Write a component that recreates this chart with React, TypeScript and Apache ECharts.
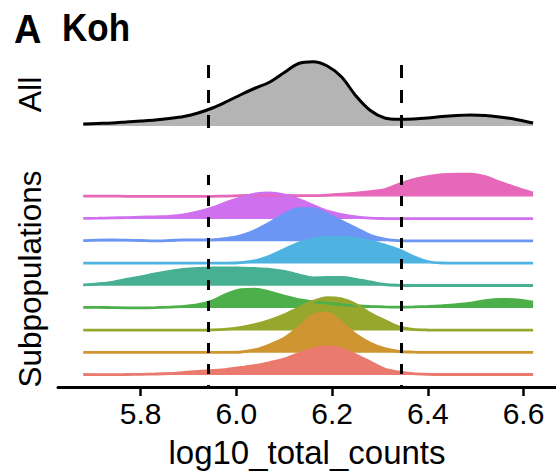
import React, { useEffect, useRef } from "react";
import * as echarts from "echarts";

// x positions (log10_total_counts) at which the densities are read
const xs = [5.68, 5.71, 5.74, 5.77, 5.8, 5.83, 5.86, 5.89, 5.92, 5.95, 5.98, 6.01, 6.04, 6.07, 6.1, 6.13, 6.16, 6.19, 6.22, 6.25, 6.28, 6.31, 6.34, 6.37, 6.4, 6.43, 6.46, 6.49, 6.52, 6.55, 6.58, 6.62];

// "All" density
const allDensity = [2, 2.5, 3, 4, 5, 6, 7.5, 9.5, 13, 18, 24.5, 31.5, 38, 44, 53.5, 62.5, 64.3, 60, 49, 30, 15.5, 8, 6.7, 7, 8, 9.5, 10.5, 11, 10.5, 9, 7, 3];

// subpopulation densities (bottom ridge first)
const sub1 = [0.5, 0.3, 0.3, 0.5, 0.7, 1, 1.5, 2.5, 3.5, 4.5, 5.7, 7.5, 9.5, 12.5, 16, 21.5, 26, 28, 26, 20, 13, 6, 3, 1.3, 0.7, 0.5, 0.5, 0.5, 0.5, 0.5, 0.5, 0.5];
const sub2 = [0.3, 0.3, 0.3, 0.3, 0.3, 0.3, 0.3, 0.3, 0.3, 0.3, 0.3, 0.7, 3, 8, 14.5, 25, 37.5, 39.5, 30, 18, 9.5, 4, 1.2, 0.6, 0.3, 0.3, 0.3, 0.3, 0.3, 0.3, 0.3, 0.3];
const sub3 = [0.3, 0.3, 0.3, 0.3, 0.3, 0.3, 0.3, 0.3, 0.3, 0.5, 1.3, 3, 6, 10, 15.5, 22.5, 29, 32.8, 31.5, 26, 17, 10, 3.5, 1, 0.4, 0.3, 0.3, 0.3, 0.3, 0.3, 0.3, 0.3];
const sub4 = [0.7, 0.7, 0.5, 0.3, 0.3, 0.5, 1, 1.8, 3.5, 7.3, 14, 18.5, 19, 16, 12, 8.5, 6.3, 5, 3.5, 2.5, 1.7, 1.2, 1, 1.2, 1.7, 2.5, 3.5, 5, 7.5, 8.8, 8.5, 6];
const sub5 = [1, 2, 3.5, 6.5, 9, 12, 14.5, 16.5, 17.5, 18, 18, 17.7, 17.3, 16.5, 14.5, 11, 8, 8.3, 8.3, 6.5, 3.8, 1.3, 0.5, 0.3, 0.3, 0.3, 0.3, 0.3, 0.3, 0.3, 0.3, 0.3];
const sub6 = [0.3, 0.3, 0.3, 0.3, 0.3, 0.3, 0.3, 0.3, 0.3, 0.3, 0.3, 0.8, 2.8, 7.5, 14, 20.5, 24.2, 26, 26.2, 25, 22.5, 18.5, 13.7, 7, 2, 0.5, 0.3, 0.3, 0.3, 0.3, 0.3, 0.3];
const sub7 = [0.5, 1, 1.2, 1, 0.7, 0.3, 0.7, 1.3, 1.3, 1.3, 2.7, 5.5, 11, 18.5, 27, 32.5, 32.5, 27, 20, 13, 6, 2, 0.5, 0.3, 0.3, 0.3, 0.3, 0.3, 0.3, 0.3, 0.3, 0.3];
const sub8 = [0.5, 0.7, 1, 1.3, 1.7, 2.1, 2.5, 4, 7, 11, 16.5, 21, 25, 26, 24, 19.5, 13.5, 7.7, 4.3, 2, 0.8, 0.4, 0.3, 0.3, 0.3, 0.3, 0.3, 0.3, 0.3, 0.3, 0.3, 0.3];
const sub9 = [0.5, 0.5, 0.5, 0.3, 0.3, 0.2, 0.2, 0.2, 0.2, 0.3, 0.5, 1, 1.5, 1.5, 1.2, 1, 1, 1.5, 2.5, 3.5, 5, 7, 12.5, 17, 20, 22, 22.5, 22.5, 20, 14.5, 9.5, 3.5];

const subpopulations = ["1", "2", "3", "4", "5", "6", "7", "8", "9"];
const ridges = [sub1, sub2, sub3, sub4, sub5, sub6, sub7, sub8, sub9];

// dashed threshold lines
const thresholds = [5.941, 6.344];

// tick labels
const xTicks = [5.8, 6.0, 6.2, 6.4, 6.6];

// styles
const ridgeColors = ["#EA7A6D", "#CE9530", "#97A72D", "#4DAF4A", "#47AF92", "#4EB3E0", "#6C96F3", "#CF71EE", "#E767B8"];
const FONT = '"Liberation Sans", Arial, Helvetica, sans-serif';
const RIDGE_BASE = 12;
const RIDGE_STEP = 22.3;
const X_MIN = 5.6272;
const X_MAX = 6.6679;

export default function App() {
  const ref = useRef<HTMLDivElement>(null);

  useEffect(() => {
    if (!ref.current) return;
    const chart = echarts.init(ref.current, null, { renderer: "svg" });

    const ridgeSeries: any[] = [];
    for (let i = ridges.length - 1; i >= 0; i--) {
      const off = RIDGE_BASE + i * RIDGE_STEP;
      ridgeSeries.push({
        name: subpopulations[i],
        type: "line",
        xAxisIndex: 1,
        yAxisIndex: 1,
        data: xs.map((x, k) => [x, off + ridges[i][k]]),
        smooth: 0.3,
        symbol: "none",
        silent: true,
        lineStyle: { color: ridgeColors[i], width: 2.8 },
        areaStyle: { color: ridgeColors[i], opacity: 1, origin: off },
        z: 2,
      });
    }

    const dash = (top: number, bottom: number) =>
      thresholds.map((t) => [
        { coord: [t, top] },
        { coord: [t, bottom] },
      ]);

    const option: any = {
      animation: false,
      backgroundColor: "#ffffff",
      grid: [
        { left: 58, width: 498, top: 56, height: 75 },
        { left: 58, width: 498, top: 157, height: 230 },
      ],
      xAxis: [
        {
          type: "value",
          gridIndex: 0,
          min: X_MIN,
          max: X_MAX,
          show: false,
          splitLine: { show: false },
        },
        {
          type: "value",
          gridIndex: 1,
          min: X_MIN,
          max: X_MAX,
          splitLine: { show: false },
          axisLine: { show: true, onZero: false, lineStyle: { color: "#000", width: 3 } },
          axisTick: {
            show: true,
            length: 9,
            lineStyle: { color: "#000", width: 2.5 },
            customValues: xTicks,
          },
          axisLabel: {
            show: true,
            color: "#000",
            fontSize: 30,
            fontFamily: FONT,
            margin: 11,
            customValues: xTicks,
            formatter: (v: number) => v.toFixed(1),
          },
          name: "log10_total_counts",
          nameLocation: "middle",
          nameGap: 49,
          nameTextStyle: { color: "#000", fontSize: 33, fontFamily: FONT },
        },
      ],
      yAxis: [
        { type: "value", gridIndex: 0, min: -5, max: 70, show: false, splitLine: { show: false } },
        { type: "value", gridIndex: 1, min: 0, max: 230, show: false, splitLine: { show: false } },
      ],
      graphic: [
        {
          type: "text",
          x: 14,
          y: 28,
          scaleY: 1.08,
          style: {
            text: "A",
            fontSize: 38,
            fontWeight: "bold",
            fontFamily: FONT,
            fill: "#000",
            align: "left",
            verticalAlign: "middle",
          },
        },
        {
          type: "text",
          x: 62,
          y: 28,
          scaleY: 1.1,
          style: {
            text: "Koh",
            fontSize: 35,
            fontWeight: "bold",
            fontFamily: FONT,
            fill: "#000",
            align: "left",
            verticalAlign: "middle",
          },
        },
        {
          type: "text",
          x: 29.5,
          y: 94.5,
          rotation: Math.PI / 2,
          style: {
            text: "All",
            fontSize: 32,
            fontFamily: FONT,
            fill: "#000",
            align: "center",
            verticalAlign: "middle",
          },
        },
        {
          type: "text",
          x: 29.5,
          y: 279,
          rotation: Math.PI / 2,
          style: {
            text: "Subpopulations",
            fontSize: 31.5,
            fontFamily: FONT,
            fill: "#000",
            align: "center",
            verticalAlign: "middle",
          },
        },
      ],
      series: [
        {
          name: "All",
          type: "line",
          xAxisIndex: 0,
          yAxisIndex: 0,
          data: xs.map((x, k) => [x, allDensity[k]]),
          smooth: 0.3,
          symbol: "none",
          silent: true,
          lineStyle: { color: "#000", width: 3 },
          areaStyle: { color: "#B4B4B4", opacity: 1, origin: 0 },
          z: 2,
        },
        ...ridgeSeries,
        {
          type: "line",
          xAxisIndex: 0,
          yAxisIndex: 0,
          data: [],
          silent: true,
          z: 10,
          markLine: {
            silent: true,
            symbol: ["none", "none"],
            label: { show: false },
            animation: false,
            lineStyle: { color: "#000", width: 3, type: [13, 12] },
            emphasis: { disabled: true },
            data: dash(61, -4),
          },
        },
        {
          type: "line",
          xAxisIndex: 1,
          yAxisIndex: 1,
          data: [],
          silent: true,
          z: 10,
          markLine: {
            silent: true,
            symbol: ["none", "none"],
            label: { show: false },
            animation: false,
            lineStyle: { color: "#000", width: 3, type: [10, 11] },
            emphasis: { disabled: true },
            data: dash(212, 0),
          },
        },
      ],
    };

    chart.setOption(option);
    return () => chart.dispose();
  }, []);

  return (
    <div
      ref={ref}
      style={{ position: "fixed", left: 0, top: 0, width: 556, height: 472, background: "#fff" }}
    />
  );
}
